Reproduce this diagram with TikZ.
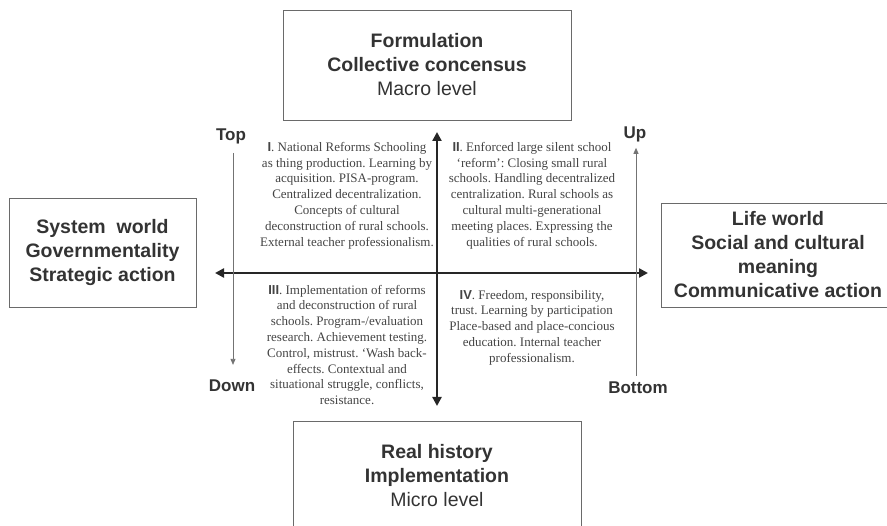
\documentclass[tikz,border=0pt]{standalone}
\usepackage{fontspec}
\setmainfont{Liberation Serif}
\setsansfont{Liberation Sans}
\usetikzlibrary{
    arrows.meta,
    positioning
}
\definecolor{boxtext}{HTML}{333333}
\definecolor{boxline}{HTML}{6A6A6A}
\definecolor{quadtext}{HTML}{444444}
\frenchspacing

\begin{document}
\begin{tikzpicture} [x=1pt,y=-1pt,
    level/.style={draw=boxline,line width=0.8pt,text=boxtext,align=center,
        font=\sffamily\fontsize{19.5}{24}\selectfont},
    quad/.style={text=quadtext,align=center,inner sep=0pt,
        font=\fontsize{13}{15.8}\selectfont},
    pole/.style={text=boxtext,inner sep=0pt,font=\sffamily\bfseries\fontsize{17}{20}\selectfont},
    axis/.style={<->,>={Triangle[length=9pt,width=9pt]},line width=2.8pt,draw=black!85},
    guide/.style={->,>={Triangle[length=6pt,width=5pt]},line width=0.8pt,draw=black!55}]
    \useasboundingbox (0,0) rectangle (887,526);

    % the four level boxes
    \node[level,minimum width=288pt,minimum height=110pt] (macro) at (427,65)
        {\textbf{Formulation}\\ \textbf{Collective concensus}\\ Macro level};
    \node[level,minimum width=288pt,minimum height=110pt] (micro) at (437,476)
        {\textbf{Real history}\\ \textbf{Implementation}\\ Micro level};
    \node[level,minimum width=187pt,minimum height=109pt] (system) at (102.5,252.5)
        {\textbf{System\ \ world}\\ \textbf{Governmentality}\\ \textbf{Strategic action}};
    \node[level,minimum width=234pt,minimum height=104pt] (life) at (778,255)
        {\textbf{Life world}\\ \textbf{Social and cultural}\\ \textbf{meaning}\\ \textbf{Communicative action}};

    % axes
    \coordinate (west)  at (215,273);
    \coordinate (east)  at (648,273);
    \coordinate (north) at (437,132);
    \coordinate (south) at (437,406);
    \draw[axis] (west) -- (east);
    \draw[axis] (north) -- (south);

    % quadrants
    \node[quad] (q1) at (347,195.5)
        {\textsf{\textbf{I}}. National Reforms Schooling\\ as thing production. Learning by\\
         acquisition. PISA-program.\\ Centralized decentralization.\\ Concepts of cultural\\
         deconstruction of rural schools.\\ External teacher professionalism.};
    \node[quad] (q2) at (532,195.5)
        {\textsf{\textbf{II}}. Enforced large silent school\\ `reform': Closing small rural\\
         schools. Handling decentralized\\ centralization. Rural schools as\\
         cultural multi-generational\\ meeting places. Expressing the\\ qualities of rural schools.};
    \node[quad] (q3) at (347,345)
        {\textsf{\textbf{III}}. Implementation of reforms\\ and deconstruction of rural\\
         schools. Program-/evaluation\\ research. Achievement testing.\\
         Control, mistrust. `Wash back-\\ effects. Contextual and\\
         situational struggle, conflicts,\\ resistance.};
    \node[quad] (q4) at (532,327.5)
        {\textsf{\textbf{IV}}. Freedom, responsibility,\\ trust. Learning by participation\\
         Place-based and place-concious\\ education. Internal teacher\\ professionalism.};

    % poles of the thin guides
    \node[pole] (top)    at (231,136) {Top};
    \node[pole] (down)   at (232,386) {Down};
    \node[pole] (up)     at (635,134) {Up};
    \node[pole] (bottom) at (638,388) {Bottom};
    \draw[guide,shorten <=9pt,shorten >=15pt] (top.south -| 233,0) -- (down.north -| 233,0);
    \draw[guide,shorten <=6pt,shorten >=6pt] (bottom.north -| 636,0) -- (up.south -| 636,0);
\end{tikzpicture}
\end{document}
